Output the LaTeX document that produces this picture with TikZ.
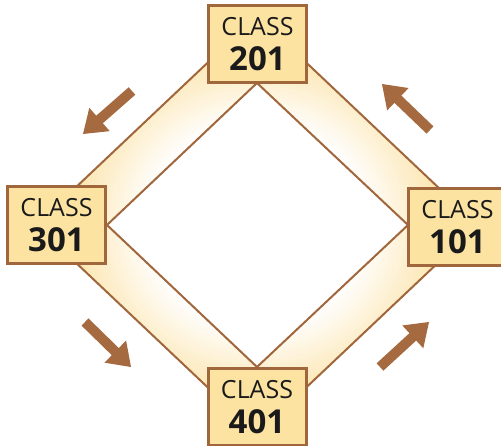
\documentclass[tikz,border=0pt]{standalone}
\usepackage{fontspec}
\setmainfont{Open Sans}
\usetikzlibrary{calc}
\definecolor{brownline}{HTML}{A0663C}
\definecolor{arrowbrown}{HTML}{A56A40}
\definecolor{boxfill}{HTML}{FCE3A2}
\definecolor{bandyellow}{HTML}{FBDA8C}
\definecolor{textblack}{HTML}{1A1A1A}
\newcommand\myflowarrow[2]{%
  \coordinate (#1-h) at ($(#2)!22pt!(#1)$);
  \draw[arrowshaft] (#1) -- ($(#1-h)!-1pt!(#1)$);
  \fill[arrowbrown] (#2) -- ($(#1-h)!15.5pt!90:(#2)$) -- ($(#1-h)!15.5pt!-90:(#2)$) -- cycle;
}
\newcommand\boxtext[1]{CLASS\\{\bfseries\fontsize{33}{35}\selectfont #1}}
\begin{document}
\begin{tikzpicture}[x=1pt,y=-1pt,
  classbox/.style={draw=brownline, line width=3pt, fill=boxfill, minimum width=98pt, minimum height=77pt, inner sep=0pt, align=center, text=textblack, font=\fontsize{25}{35}\selectfont},
  arrowshaft/.style={draw=arrowbrown, line width=10pt, line cap=butt},
  bandedge/.style={draw=brownline, line width=2pt, line join=miter}]
\useasboundingbox (0,0) rectangle (501,446);
% band
\coordinate (cc) at (257,225);
\coordinate (ot) at (257,16);
\coordinate (or) at (478,225);
\coordinate (ob) at (257,434);
\coordinate (ol) at (36,225);
\coordinate (it) at (257,83);
\coordinate (ir) at (408,225);
\coordinate (ib) at (257,367);
\coordinate (il) at (107,225);
\begin{scope}[even odd rule]
  \clip (ot) -- (or) -- (ob) -- (ol) -- cycle (it) -- (ir) -- (ib) -- (il) -- cycle;
  \foreach \i in {0,...,40}{
    \pgfmathsetmacro\rr{210-\i*2.7}
    \pgfmathsetmacro\pp{100-\i*2.5}
    \fill[bandyellow!\pp!white] (cc) ellipse [x radius=\rr*1.06 pt, y radius=\rr pt];
  }
\end{scope}
\draw[bandedge] (ot) -- (or) -- (ob) -- (ol) -- cycle;
\draw[bandedge] (it) -- (ir) -- (ib) -- (il) -- cycle;
% boxes
\node[classbox] (c201) at (257.5,44.5) {\boxtext{201}};
\node[classbox] (c301) at (56.5,225.5) {\boxtext{301}};
\node[classbox] (c101) at (457.5,227.5) {\boxtext{101}};
\node[classbox] (c401) at (257,407) {\boxtext{401}};
% arrows
\coordinate (a1) at (132,91);  \coordinate (a1t) at (83,134);
\coordinate (a2) at (85,322);  \coordinate (a2t) at (131,367);
\coordinate (a3) at (380,367); \coordinate (a3t) at (429,322);
\coordinate (a4) at (430,130); \coordinate (a4t) at (382,84);
\myflowarrow{a1}{a1t}
\myflowarrow{a2}{a2t}
\myflowarrow{a3}{a3t}
\myflowarrow{a4}{a4t}
\end{tikzpicture}
\end{document}
